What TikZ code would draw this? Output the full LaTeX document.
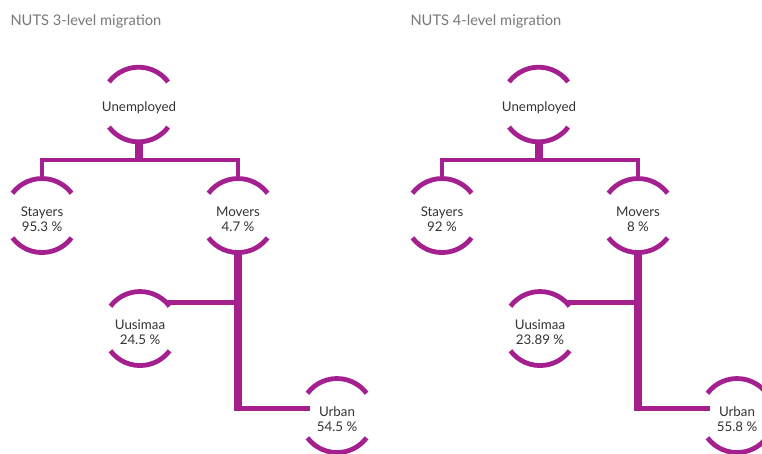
\documentclass[tikz,border=0pt]{standalone}
\usepackage{fontspec}
\setmainfont{Lato}
\definecolor{migpurple}{RGB}{164,32,143}
\definecolor{migtext}{RGB}{51,51,51}
\definecolor{migtitle}{RGB}{120,120,120}
\tikzset{every picture/.style={line width=0.75pt}}
\tikzset{
	mignode/.style={circle, minimum size=55.5pt, inner sep=0pt, outer sep=0pt, align=center, text=migtext, font=\fontsize{10}{11.25}\selectfont},
	migtitle/.style={anchor=west, text=migtitle, font=\fontsize{11}{13}\selectfont, inner sep=0pt},
	arcline/.style={draw=migpurple, line width=3.6pt},
	thinlink/.style={draw=migpurple, line width=3.2pt},
	thicklink/.style={draw=migpurple, line width=6pt}}
% ring sits a little above the text (y axis is flipped)
\def\ringlift{-2.6pt}

\begin{document}
\begin{tikzpicture}[x=0.75pt,y=0.75pt,yscale=-1,xscale=1]
	\useasboundingbox (0,0) rectangle (762,453);

	% Titles
	\node[migtitle] (ttlA) at (10,21) {NUTS 3-level migration};
	\node[migtitle] (ttlB) at (410,21) {NUTS 4-level migration};

	% Nodes, NUTS 3
	\node[mignode] (unA) at (139,108) {Unemployed};
	\node[mignode] (stA) at (42,219) {Stayers\\95.3 \%};
	\node[mignode] (moA) at (238,219) {Movers\\4.7 \%};
	\node[mignode] (uuA) at (140,332) {Uusimaa\\24.5 \%};
	\node[mignode] (urA) at (337,419) {Urban\\54.5 \%};
	% Nodes, NUTS 4
	\node[mignode] (unB) at (539,108) {Unemployed};
	\node[mignode] (stB) at (442,219) {Stayers\\92 \%};
	\node[mignode] (moB) at (638,219) {Movers\\8 \%};
	\node[mignode] (uuB) at (540,332) {Uusimaa\\23.89 \%};
	\node[mignode] (urB) at (737,419) {Urban\\55.8 \%};

	% Open circles round the nodes
	\foreach \n in {unA,stA,moA,uuA,urA,unB,stB,moB,uuB,urB} {
		\draw[arcline] ([yshift=\ringlift]\n.143) arc[start angle=-143, end angle=-37, radius=37];
		\draw[arcline] ([yshift=\ringlift]\n.-143) arc[start angle=143, end angle=37, radius=37];
	}

	% Links
	\foreach \s in {A,B} {
		\draw[thicklink] ([yshift=\ringlift]un\s.south) -- ++(0,18) coordinate (unj\s);
		\draw[thinlink] ([yshift=\ringlift]st\s.north) |- (unj\s) -| ([yshift=\ringlift]mo\s.north);
		\coordinate (urin\s) at ([xshift=7.5pt, yshift=-7.9pt]ur\s.west);
		\coordinate (uuout\s) at ([yshift=\ringlift]uu\s.45);
		\draw[thicklink] ([yshift=\ringlift]mo\s.south) -- (mo\s.south |- urin\s) coordinate (moj\s);
		\draw[thinlink] ([xshift=-3pt]moj\s) -- (urin\s);
		\draw[thinlink] (uuout\s) -- (uuout\s -| mo\s.south);
	}

\end{tikzpicture}
\end{document}
